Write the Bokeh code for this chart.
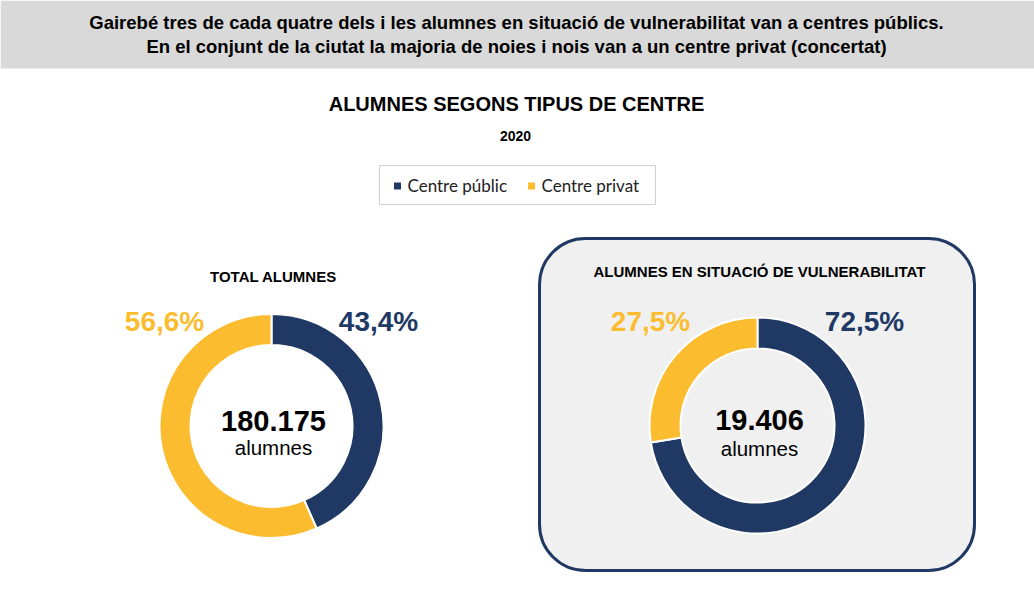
import math
from bokeh.plotting import figure
from bokeh.models import Range1d, BoxAnnotation, ColumnDataSource
from bokeh.core.properties import value
from bokeh.embed import file_html
from bokeh.resources import INLINE

# ---- data ----
categories = ["Centre públic", "Centre privat"]
colors = ["#203864", "#FBBD2F"]
total_pct = [43.4, 56.6]
vuln_pct = [72.5, 27.5]
total_students = "180.175"
vuln_students = "19.406"
banner_lines = [
    "Gairebé tres de cada quatre dels i les alumnes en situació de vulnerabilitat van a centres públics.",
    "En el conjunt de la ciutat la majoria de noies i nois van a un centre privat (concertat)",
]
title = "ALUMNES SEGONS TIPUS DE CENTRE"
subtitle = "2020"
panel_titles = ["TOTAL ALUMNES", "ALUMNES EN SITUACIÓ DE VULNERABILITAT"]

W, H = 1034, 604
OFF = 0.37  # baseline correction (fraction of font size)

p = figure(width=W, height=H, x_range=Range1d(0, W), y_range=Range1d(0, H),
           output_backend="svg", toolbar_location=None, min_border=0)
p.axis.visible = False
p.grid.visible = False
p.outline_line_color = None
p.background_fill_color = "white"
p.border_fill_color = "white"

FONT = value("Liberation Sans")

def Y(py):
    return H - py

def txt(xs, base_py, texts, size, color="black", bold=False, font=FONT, align="center"):
    p.text(x=xs, y=[Y(base_py - OFF * size)] * len(xs), text=texts, text_font=font,
           text_font_style="bold" if bold else "normal", text_font_size=f"{size}px",
           text_align=align, text_baseline="alphabetic", text_color=color)

# banner
p.quad(left=[0], right=[W], bottom=[Y(68)], top=[H], fill_color="#D9D9D9", line_color=None)
txt([516], 29, banner_lines[:1], 18.5, bold=True)
txt([516], 53, banner_lines[1:], 18.5, bold=True)

# title
txt([516], 110.7, [title], 20, bold=True)
txt([515], 141, [subtitle], 14, bold=True)

# legend
p.quad(left=[379], right=[655], bottom=[Y(204)], top=[Y(165)], fill_color="white",
       line_color="#D0D0D0", line_width=1)
leg_x = [397, 531]
p.rect(x=leg_x, y=[Y(185.5)] * 2, width=7, height=7, fill_color=colors, line_color=None)
txt([x + 10 for x in leg_x], 191, categories, 17, color="#222222", font=value("Lato"), align="left")

# rounded panel
p.add_layout(BoxAnnotation(left=539, right=974, bottom=Y(570), top=Y(238),
                           fill_color="#F0F0F0", fill_alpha=1.0, line_color="#203864",
                           line_alpha=1.0, line_width=3, border_radius=46, level="underlay"))

def donut(cx, cy, r_in, r_out, pcts, total, ptitle, title_y, num_base, alu_base):
    starts, ends = [], []
    acc = 0.0
    for v in pcts:
        starts.append(math.pi / 2 - 2 * math.pi * acc / 100.0)
        acc += v
        ends.append(math.pi / 2 - 2 * math.pi * acc / 100.0)
    src = ColumnDataSource(dict(start=starts, end=ends, color=colors))
    p.annular_wedge(x=cx, y=Y(cy), inner_radius=r_in, outer_radius=r_out,
                    start_angle="start", end_angle="end", direction="clock",
                    fill_color="color", line_color="white", line_width=2, source=src)
    labels = [f"{v:.1f}%".replace(".", ",") for v in pcts]
    for i, lab in enumerate(labels):
        dx = 107 if i == 0 else -107
        txt([cx + dx], 331, [lab], 28, color=colors[i], bold=True)
    txt([cx + 2], num_base, [total], 29, bold=True)
    txt([cx + 2], alu_base, ["alumnes"], 20.5)
    txt([cx + 2], title_y, [ptitle], 15, bold=True)

donut(271, 425.5, 81, 112, total_pct, total_students, panel_titles[0], 281.5, 431.5, 455)
donut(757, 425, 77, 108, vuln_pct, vuln_students, panel_titles[1], 277, 430, 456)

open("out.html", "w").write(file_html(p, INLINE))
